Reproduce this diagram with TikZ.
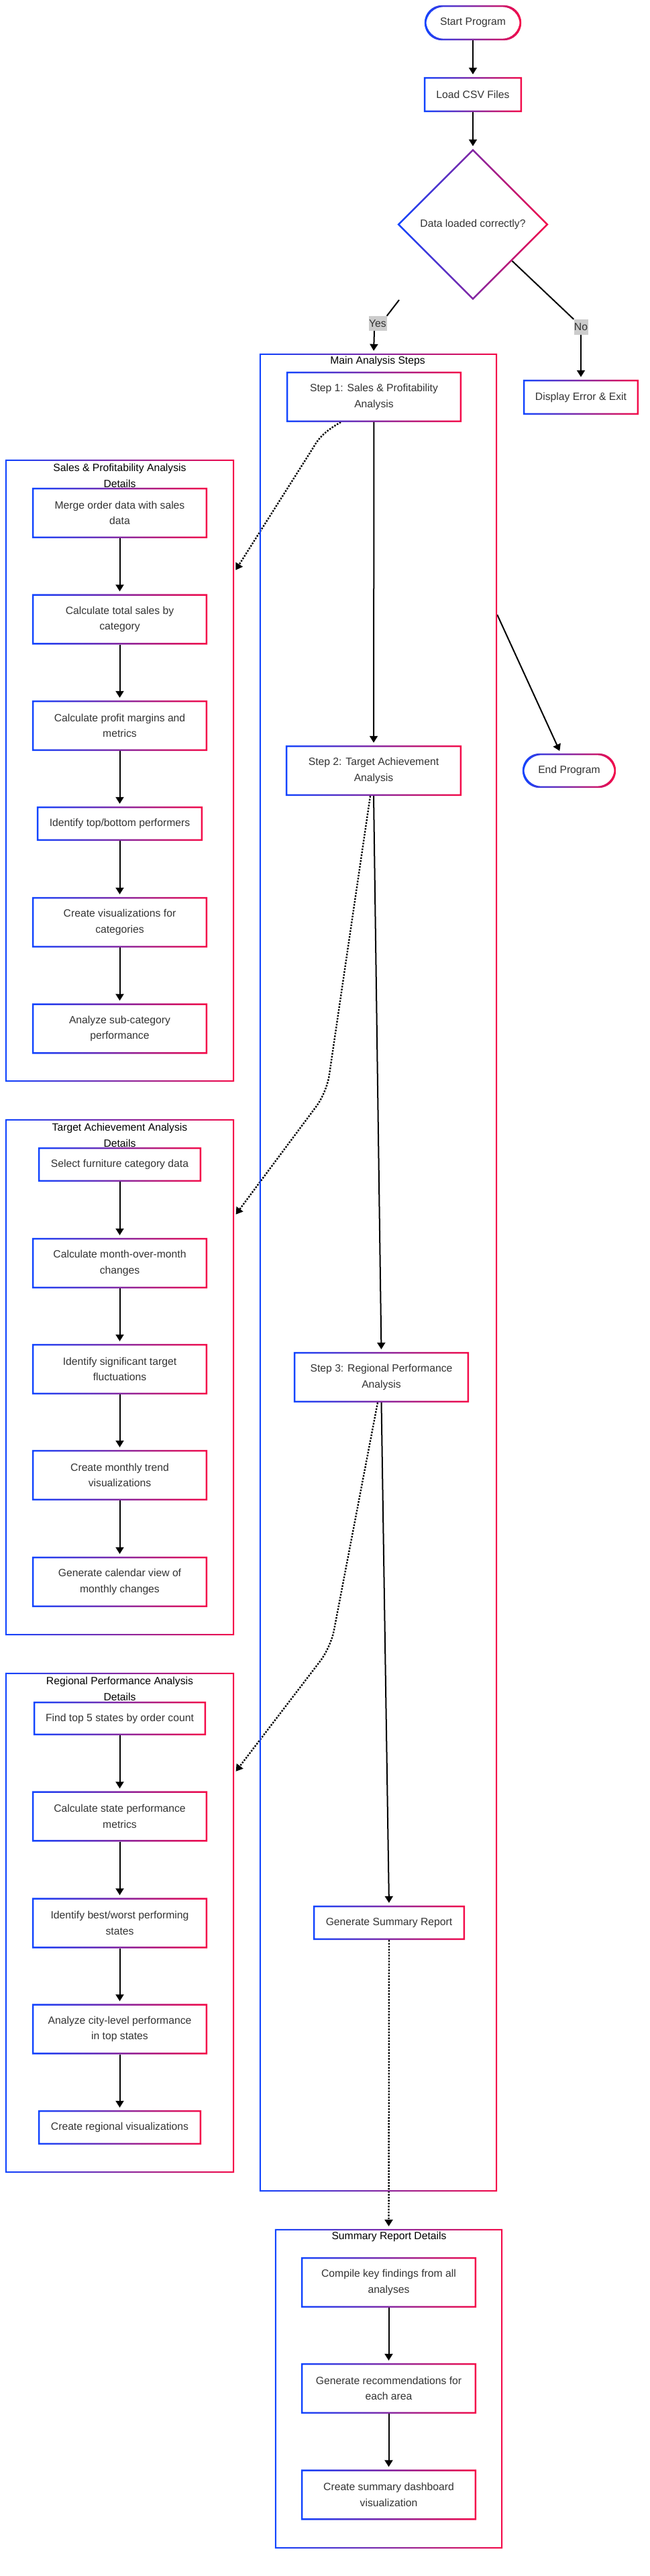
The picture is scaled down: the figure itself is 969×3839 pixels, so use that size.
\documentclass[tikz,border=0pt]{standalone}
\usepackage{fontspec}
\setmainfont{Liberation Sans}
\usetikzlibrary{arrows.meta,shapes.geometric,calc}
\definecolor{gb}{RGB}{17,68,255}
\definecolor{gr}{RGB}{245,10,72}
\definecolor{txt}{RGB}{51,51,51}
\newcommand\nfont{\fontsize{15.7}{23.5}\selectfont}
\newcommand\gfr[2]{\shade[left color=gb,right color=gr,even odd rule] (#1.south west) rectangle (#1.north east) ([xshift=#2,yshift=#2]#1.south west) rectangle ([xshift=-#2,yshift=-#2]#1.north east);}
\newcommand\gst[2]{\shade[left color=gb,right color=gr,even odd rule] [rounded corners=#2] (#1.south west) rectangle (#1.north east) ([xshift=2.5pt,yshift=2.5pt]#1.south west) rectangle ([xshift=-2.5pt,yshift=-2.5pt]#1.north east);}
\tikzset{
  cl/.style={rectangle, draw=none, inner sep=0pt},
  nd/.style={rectangle, fill=white, inner sep=0pt, align=center, text=txt, font=\nfont, minimum width=261pt, minimum height=75pt},
  one/.style={nd, minimum height=51pt},
  stad/.style={nd, rounded corners=25pt, minimum height=52pt},
  ttl/.style={align=center, text=black, font=\nfont, inner sep=0pt},
  lbl/.style={fill=black!20, text=txt, font=\nfont, inner sep=0pt, minimum height=22pt, minimum width=26pt},
  arr/.style={-{Triangle[length=10pt,width=12pt]}, line width=2pt, black, shorten >=4pt},
  dotarr/.style={arr, line width=2.4pt, dash pattern=on 2.4pt off 2pt},
}
\begin{document}
\begin{tikzpicture}[x=1pt,y=-1pt]
\useasboundingbox (0,0) rectangle (969,3839);
\fill[white] (0,0) rectangle (969,3839);
% clusters
\node[cl, minimum width=354pt, minimum height=2739pt] (cmain) at (564,1896.5) {};
\node[cl, minimum width=341pt, minimum height=927pt] (csales) at (178.5,1148.5) {};
\node[cl, minimum width=341pt, minimum height=769pt] (ctarget) at (178.5,2052.5) {};
\node[cl, minimum width=341pt, minimum height=745pt] (cregional) at (178.5,2865.5) {};
\node[cl, minimum width=339pt, minimum height=476pt] (csum) at (579.5,3560) {};
% cluster titles
\node[ttl] (tmain) at (563,538) {Main Analysis Steps};
\node[ttl] (tsales) at (178.5,709) {Sales \& Profitability Analysis\\Details};
\node[ttl] (ttarget) at (178.5,1692) {Target Achievement Analysis\\Details};
\node[ttl] (tregional) at (178.5,2517) {Regional Performance Analysis\\Details};
\node[ttl] (tsum) at (580,3333) {Summary Report Details};
% top nodes
\node[stad, minimum width=144pt] (start) at (705,34) {Start Program};
\node[one, minimum width=146pt, minimum height=52pt] (load) at (705,141) {Load CSV Files};
\node[diamond, aspect=1, fill=white, inner sep=0pt, minimum width=225pt, minimum height=225pt, text=txt, font=\nfont] (dec) at (705,334.5) {Data loaded correctly?};
\node[one, minimum width=172pt, minimum height=52pt] (err) at (866,592) {Display Error \& Exit};
\node[stad, minimum width=139pt, minimum height=51pt] (end) at (848.5,1148.5) {End Program};
\node[lbl, minimum width=27pt] (yes) at (563,482) {Yes};
\node[lbl, minimum width=21pt, minimum height=23pt] (no) at (866,487.5) {No};
% main steps
\node[nd] (s1) at (557.5,591.5) {Step 1: Sales \& Profitability\\Analysis};
\node[nd, minimum width=262pt] (s2) at (557,1148.5) {Step 2: Target Achievement\\Analysis};
\node[nd] (s3) at (568.5,2052.5) {Step 3: Regional Performance\\Analysis};
\node[one, minimum width=226pt] (gen) at (580,2865.5) {Generate Summary Report};
% sales details
\node[nd] (m1) at (178.5,764.5) {Merge order data with sales\\data};
\node[nd] (m2) at (178.5,923) {Calculate total sales by\\category};
\node[nd] (m3) at (178.5,1081.5) {Calculate profit margins and\\metrics};
\node[one, minimum width=247pt] (m4) at (178.5,1227.5) {Identify top/bottom performers};
\node[nd] (m5) at (178.5,1374.5) {Create visualizations for\\categories};
\node[nd] (m6) at (178.5,1533) {Analyze sub-category\\performance};
% target details
\node[one, minimum width=243pt] (t1) at (178.5,1735.5) {Select furniture category data};
\node[nd] (t2) at (178.5,1882.5) {Calculate month-over-month\\changes};
\node[nd] (t3) at (178.5,2040.5) {Identify significant target\\fluctuations};
\node[nd] (t4) at (178.5,2198.5) {Create monthly trend\\visualizations};
\node[nd] (t5) at (178.5,2357.5) {Generate calendar view of\\monthly changes};
% regional details
\node[one, minimum width=257pt, minimum height=50pt] (r1) at (178.5,2561) {Find top 5 states by order count};
\node[nd] (r2) at (178.5,2707) {Calculate state performance\\metrics};
\node[nd] (r3) at (178.5,2866) {Identify best/worst performing\\states};
\node[nd] (r4) at (178.5,3024) {Analyze city-level performance\\in top states};
\node[one, minimum width=243pt] (r5) at (178.5,3170.5) {Create regional visualizations};
% summary details
\node[nd] (u1) at (579.5,3401.5) {Compile key findings from all\\analyses};
\node[nd] (u2) at (579.5,3559.5) {Generate recommendations for\\each area};
\node[nd] (u3) at (579.5,3718) {Create summary dashboard\\visualization};
% connectors
\draw[arr] (start) -- (load);
\draw[arr] (load) -- (dec);
\coordinate (ys) at (595,447);
\draw[line width=2pt] (ys) -- (yes.north east);
\draw[arr] ([xshift=-5pt]yes.south) -- ([xshift=-7pt]cmain.north);
\draw[line width=2pt] ($(dec.east)!0.482!(dec.south)$) -- (no.north west);
\draw[arr] (no.south) -- (err.north);
\draw[arr] ([yshift=980.5pt]cmain.east) -- ([xshift=-12.5pt]end.north);
\draw[arr] (s1) -- (s2);
\draw[arr] (s2.south) -- (s3.north);
\draw[arr] (s3.south) -- (gen.north);
\draw[dotarr] ([xshift=-49.5pt]s1.south) .. controls (485,642) and (474,654) .. (467,667) -- ([yshift=295.5pt]csales.east);
\draw[dotarr, rounded corners=25pt] ([xshift=-5pt]s2.south) -- (487,1628) -- ([yshift=239.5pt]ctarget.east);
\draw[dotarr, rounded corners=25pt] ([xshift=-5.5pt]s3.south) -- (493,2455) -- ([yshift=222.5pt]cregional.east);
\draw[dotarr] (gen.south) -- (csum.north);
\foreach \a/\b in {m1/m2,m2/m3,m3/m4,m4/m5,m5/m6,t1/t2,t2/t3,t3/t4,t4/t5,r1/r2,r2/r3,r3/r4,r4/r5,u1/u2,u2/u3}
  {\draw[arr] (\a.south) -- (\b.north);}
% gradient frames
\foreach \c in {cmain,csales,ctarget,cregional,csum} {\gfr{\c}{2pt}}
\foreach \n in {load,err,s1,s2,s3,gen,m1,m2,m3,m4,m5,m6,t1,t2,t3,t4,t5,r1,r2,r3,r4,r5,u1,u2,u3} {\gfr{\n}{2.5pt}}
\gst{start}{26pt}
\gst{end}{25.5pt}
\shade[left color=gb,right color=gr,even odd rule] (dec.north) -- (dec.east) -- (dec.south) -- (dec.west) -- cycle ([yshift=-3.5pt]dec.north) -- ([xshift=-3.5pt]dec.east) -- ([yshift=3.5pt]dec.south) -- ([xshift=3.5pt]dec.west) -- cycle;
\end{tikzpicture}
\end{document}
